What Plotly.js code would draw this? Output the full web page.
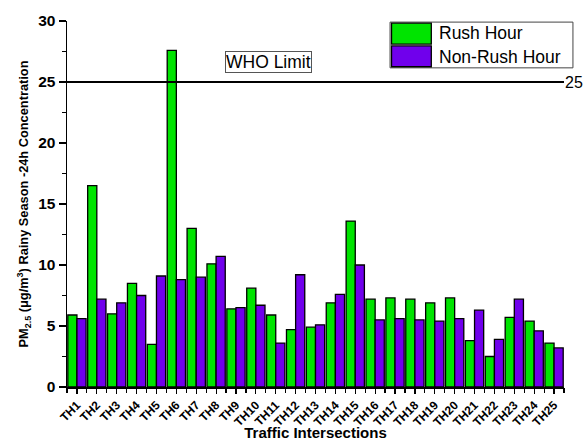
<!DOCTYPE html>
<html>
<head>
<meta charset="utf-8">
<script src="https://cdn.plot.ly/plotly-3.0.1.min.js"></script>
<style>html,body{margin:0;padding:0;background:#fff;}#chart{width:584px;height:441px;}</style>
</head>
<body>
<div id="chart"></div>
<script>
const categories = ["TH1","TH2","TH3","TH4","TH5","TH6","TH7","TH8","TH9","TH10","TH11","TH12","TH13","TH14","TH15","TH16","TH17","TH18","TH19","TH20","TH21","TH22","TH23","TH24","TH25"];
const rushHour = [5.9,16.5,6.0,8.5,3.5,27.6,13.0,10.1,6.4,8.1,5.9,4.7,4.9,6.9,13.6,7.2,7.3,7.2,6.9,7.3,3.8,2.5,5.7,5.4,3.6];
const nonRushHour = [5.6,7.2,6.9,7.5,9.1,8.8,9.0,10.7,6.5,6.7,3.6,9.2,5.1,7.6,10.0,5.5,5.6,5.5,5.4,5.6,6.3,3.9,7.2,4.6,3.2];
const whoLimit = 25;
const yTicks = [0,5,10,15,20,25,30];
const seriesNames = ["Rush Hour","Non-Rush Hour"];
const seriesColors = ["#00E400","#7000EC"];

const FONT = "Arial, 'Liberation Sans', sans-serif";

const traces = [
  {type:'bar', name:seriesNames[0], x:categories, y:rushHour, showlegend:false,
   marker:{color:seriesColors[0], line:{color:'#000', width:1.3}}},
  {type:'bar', name:seriesNames[1], x:categories, y:nonRushHour, showlegend:false,
   marker:{color:seriesColors[1], line:{color:'#000', width:1.3}}}
];

// legend drawn as layout decoration
const legShapes = [
  {type:'rect', xref:'paper', yref:'paper', x0:0.650, x1:1.018, y0:0.872, y1:0.997, line:{color:'#444', width:1}, fillcolor:'#fff', layer:'above'},
  {type:'rect', xref:'paper', yref:'paper', x0:0.653, x1:0.733, y0:0.937, y1:0.994, line:{color:'#000', width:1.3}, fillcolor:seriesColors[0], layer:'above'},
  {type:'rect', xref:'paper', yref:'paper', x0:0.653, x1:0.733, y0:0.875, y1:0.932, line:{color:'#000', width:1.3}, fillcolor:seriesColors[1], layer:'above'}
];
const legAnn = [
  {xref:'paper', yref:'paper', x:0.745, y:0.966, text:seriesNames[0], showarrow:false, xanchor:'left', yanchor:'middle', font:{size:17.5, family:FONT}},
  {xref:'paper', yref:'paper', x:0.745, y:0.903, text:seriesNames[1], showarrow:false, xanchor:'left', yanchor:'middle', font:{size:17.5, family:FONT}}
];

const layout = {
  width:584, height:441,
  margin:{l:67, r:20, t:21, b:54},
  paper_bgcolor:'#fff', plot_bgcolor:'#fff',
  font:{family:FONT, color:'#000'},
  barmode:'group', bargap:0.08, bargroupgap:0,
  showlegend:false,
  xaxis:{type:'category', range:[-0.5,24.5], showline:true, linecolor:'#000', linewidth:1.5,
    tickvals:categories, ticktext:categories.map(c => '<b>' + c + '</b>'),
    ticks:'outside', ticklen:5, tickwidth:1.2, tickcolor:'#000', tickangle:-45,
    tickfont:{size:12, family:FONT}, showgrid:false, zeroline:false,
    title:{text:'<b>Traffic Intersections</b>', font:{size:15, family:FONT}, standoff:0}},
  yaxis:{range:[0,30], tickvals:yTicks, ticktext:yTicks.map(v => '<b>' + v + '</b>'),
    showline:true, linecolor:'#000', linewidth:1.5,
    ticks:'outside', ticklen:7, tickwidth:1.2, tickcolor:'#000',
    minor:{dtick:2.5, ticks:'outside', ticklen:4, tickcolor:'#000', tickwidth:1},
    tickfont:{size:15.5, family:FONT}, showgrid:false, zeroline:false,
    title:{text:'<b>PM<sub>2.5</sub> (μg/m<sup>3</sup>) Rainy Season -24h Concentration</b>', font:{size:12.8, family:FONT}, standoff:6}},
  shapes:[
    {type:'line', xref:'paper', x0:0, x1:1, yref:'y', y0:whoLimit, y1:whoLimit, line:{color:'#000', width:2}}
  ].concat(legShapes),
  annotations:[
    {xref:'paper', x:1, yref:'y', y:whoLimit, text:String(whoLimit), showarrow:false, xanchor:'left', yanchor:'middle',
     font:{size:16, family:FONT}, xshift:-1},
    {xref:'paper', x:0.405, yref:'y', y:26.6, text:'WHO Limit', showarrow:false, xanchor:'center', yanchor:'middle',
     font:{size:17.5, family:FONT}, bordercolor:'#555', borderwidth:1, borderpad:0, bgcolor:'#fff'}
  ].concat(legAnn)
};

// boundary ticks for the x axis via an overlaying linear axis
layout.xaxis2 = {overlaying:'x', range:[-0.5,24.5], anchor:'y', side:'bottom', dtick:1, tick0:-0.5,
  ticks:'outside', ticklen:5, tickwidth:1.2, tickcolor:'#000', showticklabels:false, showgrid:false, zeroline:false, showline:false};
traces.push({type:'scatter', x:[], y:[], xaxis:'x2', showlegend:false, hoverinfo:'skip'});

Plotly.newPlot('chart', traces, layout, {displayModeBar:false, staticPlot:true});
</script>
</body>
</html>
